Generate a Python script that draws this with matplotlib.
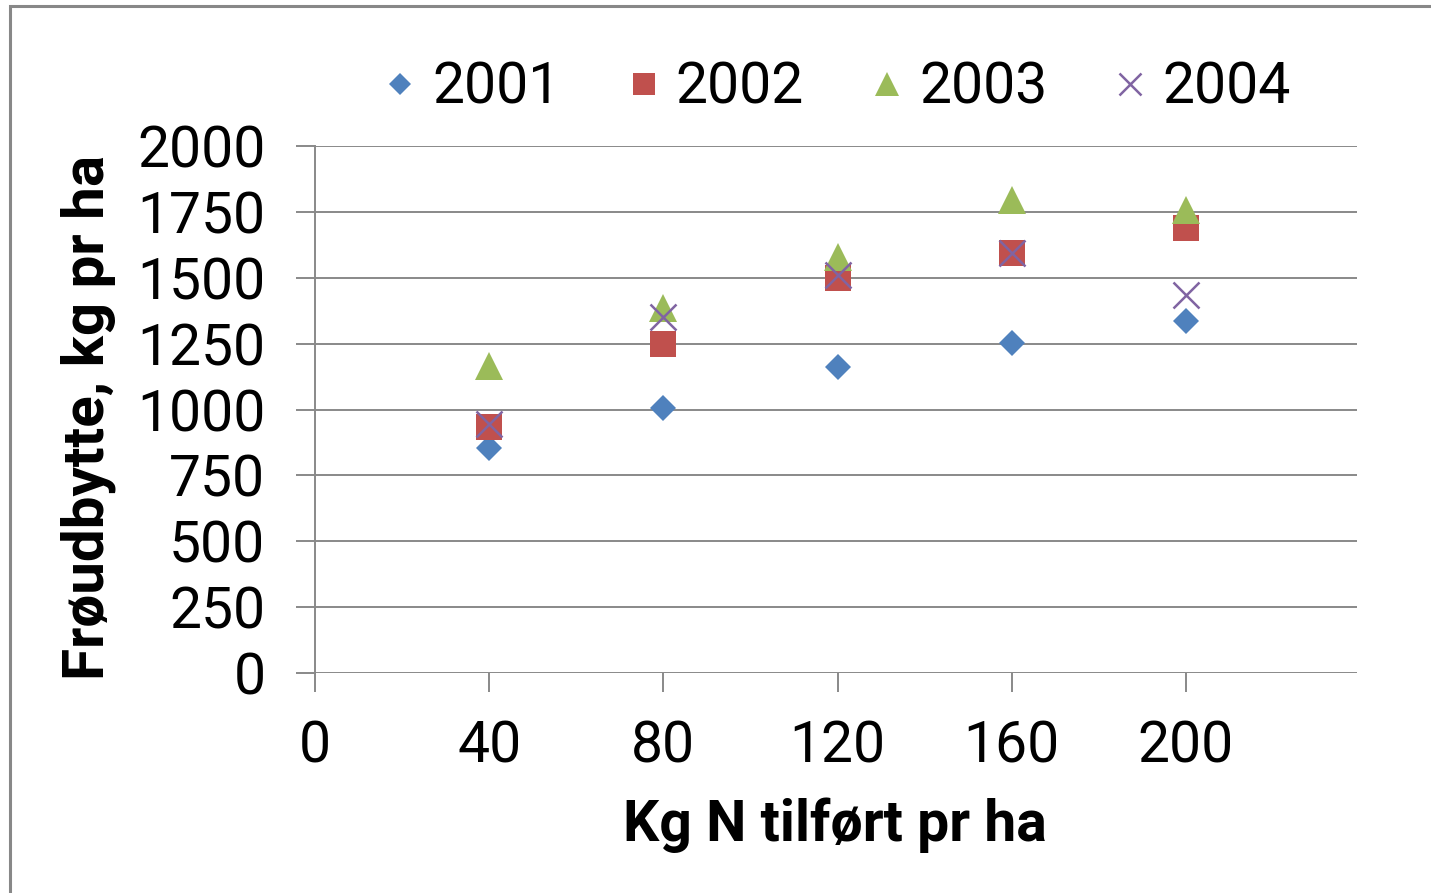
import matplotlib.pyplot as plt
from matplotlib.patches import Rectangle

plt.rcParams['font.family'] = ['Roboto', 'DejaVu Sans']

# Nitrogen rates and seed yield per year
n_rates = [40, 80, 120, 160, 200]
years = ['2001', '2002', '2003', '2004']
yield_2001 = [855, 1005, 1160, 1252, 1335]
yield_2002 = [932, 1250, 1500, 1593, 1688]
yield_2003 = [1165, 1384, 1579, 1796, 1756]
yield_2004 = [945, 1352, 1510, 1593, 1434]

x_ticks = [0, 40, 80, 120, 160, 200]
y_ticks = [0, 250, 500, 750, 1000, 1250, 1500, 1750, 2000]

W, H = 1431, 893
fig = plt.figure(figsize=(W / 100, H / 100), dpi=100)
ax = fig.add_axes([315 / W, 1 - 673 / H, (1357 - 315) / W, (673 - 146) / H])

grid_col = '#898989'
styles = [
    dict(marker='D', color='#4F81BD', ms=13.6, mew=0),
    dict(marker='s', color='#C0504D', ms=18.5, mew=0),
    dict(marker='^', color='#9BBB59', ms=19.5, mew=0),
    dict(marker='x', color='#8064A2', ms=18.5, mew=1.8),
]
series = [yield_2001, yield_2002, yield_2003, yield_2004]
for yr, vals, st in zip(years, series, styles):
    ax.plot(n_rates, vals, linestyle='none', label=yr, zorder=3, **st)

ax.set_xlim(0, 239.3)
ax.set_ylim(0, 2000)
ax.set_xticks(x_ticks)
ax.set_yticks(y_ticks)
ax.grid(axis='y', color=grid_col, lw=1.4)
ax.set_axisbelow(True)
for s in ['top', 'right', 'bottom']:
    ax.spines[s].set_visible(False)
ax.spines['left'].set_color(grid_col)
ax.spines['left'].set_linewidth(1.4)
ax.tick_params(axis='both', length=13.7, width=1.4, color=grid_col,
               labelsize=41, direction='out')
ax.tick_params(axis='y', pad=22)
ax.tick_params(axis='x', pad=20)

fig.text(835 / W, 1 - 825 / H, 'Kg N tilført pr ha', fontsize=41,
         fontweight='bold', ha='center', va='center')
fig.text(88 / W, 1 - 417 / H, 'Frøudbytte, kg pr ha', fontsize=42,
         fontweight='bold', ha='center', va='center', rotation=90)

fig.legend(loc='center', bbox_to_anchor=(837 / W, 1 - 88 / H), ncol=4,
           frameon=False, fontsize=41, handlelength=0.6, handletextpad=0.26,
           columnspacing=1.16, markerscale=0.85, borderpad=0)

# chart border
fig.add_artist(Rectangle((9.5 / W, -0.1), 1.2, 1 + 0.1 - 5.5 / H,
                         transform=fig.transFigure, fill=False,
                         edgecolor='#888888', lw=2.2))

fig.savefig('out.png', dpi=100)
